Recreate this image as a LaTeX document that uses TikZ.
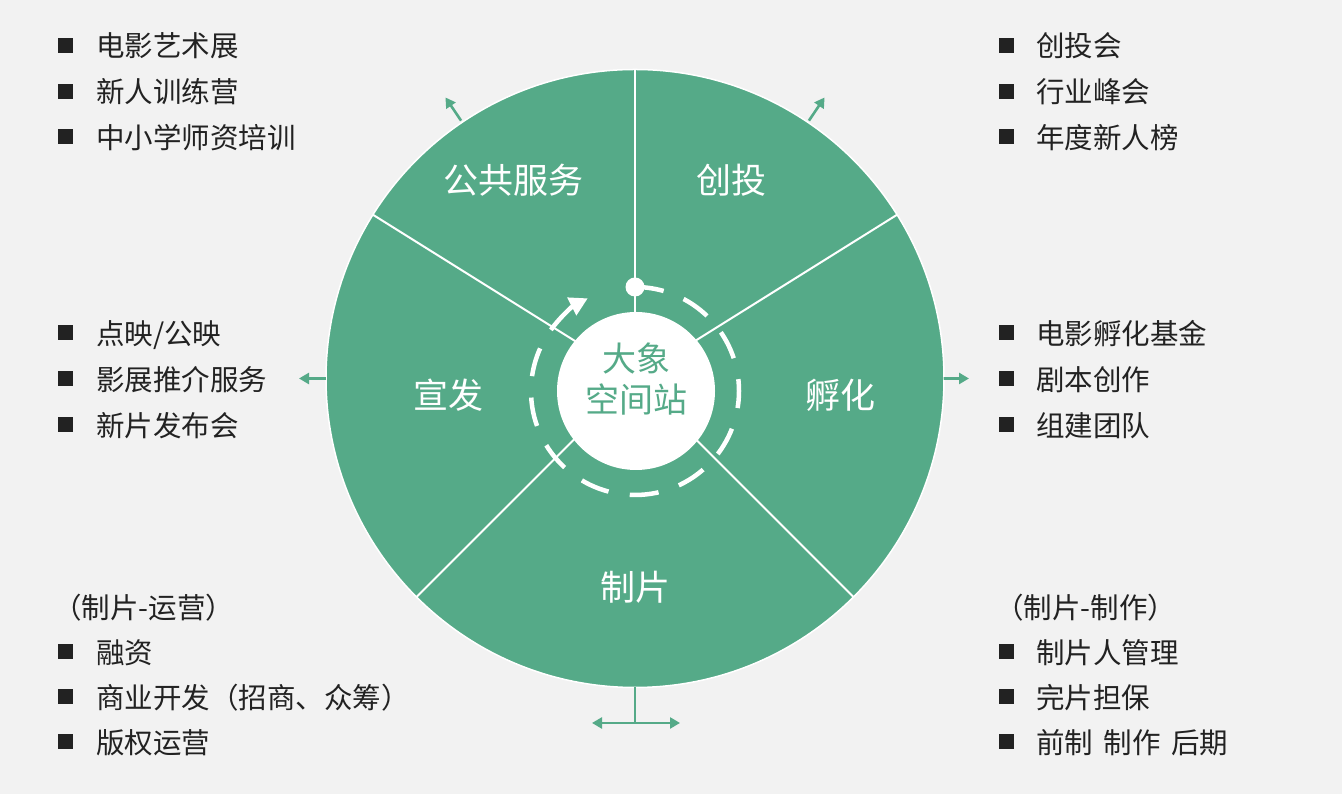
\documentclass[tikz,border=0pt]{standalone}
\usepackage{fontspec}
\setmainfont{Noto Sans CJK SC}
\usetikzlibrary{arrows.meta,calc}
\definecolor{bg}{HTML}{F2F2F2}
\definecolor{wheel}{HTML}{55AA88}
\definecolor{ink}{HTML}{222222}
\begin{document}
\begin{tikzpicture}[x=1pt,y=1pt,
  cjk/.style={inner sep=0,text height=0.84em,text depth=0.08em},
  item/.style={cjk,anchor=west,text=ink,font=\fontsize{28.5}{34}\selectfont,yshift=-7.5pt},
  bul/.style={fill=ink,minimum size=15pt,inner sep=0,draw=none,rectangle},
  seclabel/.style={cjk,text=white,font=\fontsize{35}{42}\selectfont,yshift=-9pt},
  hubtext/.style={cjk,text=wheel,font=\fontsize{34}{41}\selectfont,yshift=-9pt},
  tipA/.tip={Triangle[length=10pt,width=11pt]},
  outarrow/.style={draw=wheel,line width=2.6pt,-tipA},
  divider/.style={draw=white,line width=2pt},
  ring/.style={draw=white,line width=4.5pt},
]
\useasboundingbox (0,0) rectangle (1342,794);
\fill[bg] (0,0) rectangle (1342,794);

% wheel
\coordinate (O) at (635,415.5);
\node[circle,fill=wheel,draw=white,line width=1.5pt,minimum size=618pt,inner sep=0] (wheel) at (O) {};
\foreach \a in {90,148,225,315,32}
  \draw[divider] (O) -- ++(\a:309);

% hub
\coordinate (D) at (635,403);
\node[circle,fill=white,minimum size=158pt,inner sep=0] (hub) at (636,403) {};
\draw[ring,dash pattern=on 29pt off 21.5pt] (D) ++(90:104) arc[start angle=90,end angle=-216,radius=104];
\draw[ring,-{Triangle[length=18pt,width=19pt]}] (D) ++(144:104) arc[start angle=144,end angle=117,radius=104];
\node[circle,fill=white,minimum size=19pt,inner sep=0] (pin) at ($(D)+(90:104)$) {};
\node[hubtext] (hub1) at (636,435) {大象};
\node[hubtext] (hub2) at (636,394) {空间站};

% sector labels
\node[seclabel] (s1) at (513,613) {公共服务};
\node[seclabel] (s2) at (731,613) {创投};
\node[seclabel] (s3) at (448.5,398) {宣发};
\node[seclabel] (s4) at (840,398) {孵化};
\node[seclabel] (s5) at (635,206) {制片};

% outward arrows
\coordinate (aulS) at ($(O)+(124:311)$);
\coordinate (aulE) at ($(O)+(124:339)$);
\coordinate (aurS) at ($(O)+(56:311)$);
\coordinate (aurE) at ($(O)+(56:339)$);
\coordinate (alS) at ($(O)+(180:309)$);
\coordinate (alE) at ($(O)+(180:336)$);
\coordinate (arS) at ($(O)+(0:309)$);
\coordinate (arE) at ($(O)+(0:334)$);
\draw[outarrow] (aulS) -- (aulE);
\draw[outarrow] (aurS) -- (aurE);
\draw[outarrow] (alS) -- (alE);
\draw[outarrow] (arS) -- (arE);
\coordinate (abS) at ($(O)+(270:309)$);
\coordinate (abM) at (635,71);
\coordinate (abL) at (592,71);
\coordinate (abR) at (680,71);
\draw[draw=wheel,line width=2.6pt] (abS) -- (abM);
\draw[outarrow,tipA-tipA] (abL) -- (abR);

% top-left list
\node[bul] (tl1b) at (65,748.5) {};
\node[item] (tl1) at (96,748.5) {电影艺术展};
\node[bul] (tl2b) at (65,702.5) {};
\node[item] (tl2) at (96,702.5) {新人训练营};
\node[bul] (tl3b) at (65,657) {};
\node[item] (tl3) at (96,657) {中小学师资培训};

% top-right list
\node[bul] (tr1b) at (1006,748.5) {};
\node[item] (tr1) at (1036,748.5) {创投会};
\node[bul] (tr2b) at (1006,702.5) {};
\node[item] (tr2) at (1036,702.5) {行业峰会};
\node[bul] (tr3b) at (1006,657) {};
\node[item] (tr3) at (1036,657) {年度新人榜};

% mid-left list
\node[bul] (ml1b) at (65,461) {};
\node[item] (ml1) at (96,461) {点映/公映};
\node[bul] (ml2b) at (65,415) {};
\node[item] (ml2) at (96,415) {影展推介服务};
\node[bul] (ml3b) at (65,369) {};
\node[item] (ml3) at (96,369) {新片发布会};

% mid-right list
\node[bul] (mr1b) at (1006,461) {};
\node[item] (mr1) at (1036,461) {电影孵化基金};
\node[bul] (mr2b) at (1006,415) {};
\node[item] (mr2) at (1036,415) {剧本创作};
\node[bul] (mr3b) at (1006,369) {};
\node[item] (mr3) at (1036,369) {组建团队};

% bottom-left list
\node[item] (blh) at (53,187) {（制片-运营）};
\node[bul] (bl1b) at (65,142) {};
\node[item] (bl1) at (96,142) {融资};
\node[bul] (bl2b) at (65,97) {};
\node[item] (bl2) at (96,97) {商业开发（招商、众筹）};
\node[bul] (bl3b) at (65,52) {};
\node[item] (bl3) at (96,52) {版权运营};

% bottom-right list
\node[item] (brh) at (995,187) {（制片-制作）};
\node[bul] (br1b) at (1006,142) {};
\node[item] (br1) at (1036,142) {制片人管理};
\node[bul] (br2b) at (1006,97) {};
\node[item] (br2) at (1036,97) {完片担保};
\node[bul] (br3b) at (1006,52) {};
\node[item] (br3) at (1036,52) {前制\hspace{10.5pt}制作\hspace{10.5pt}后期};
\end{tikzpicture}
\end{document}
